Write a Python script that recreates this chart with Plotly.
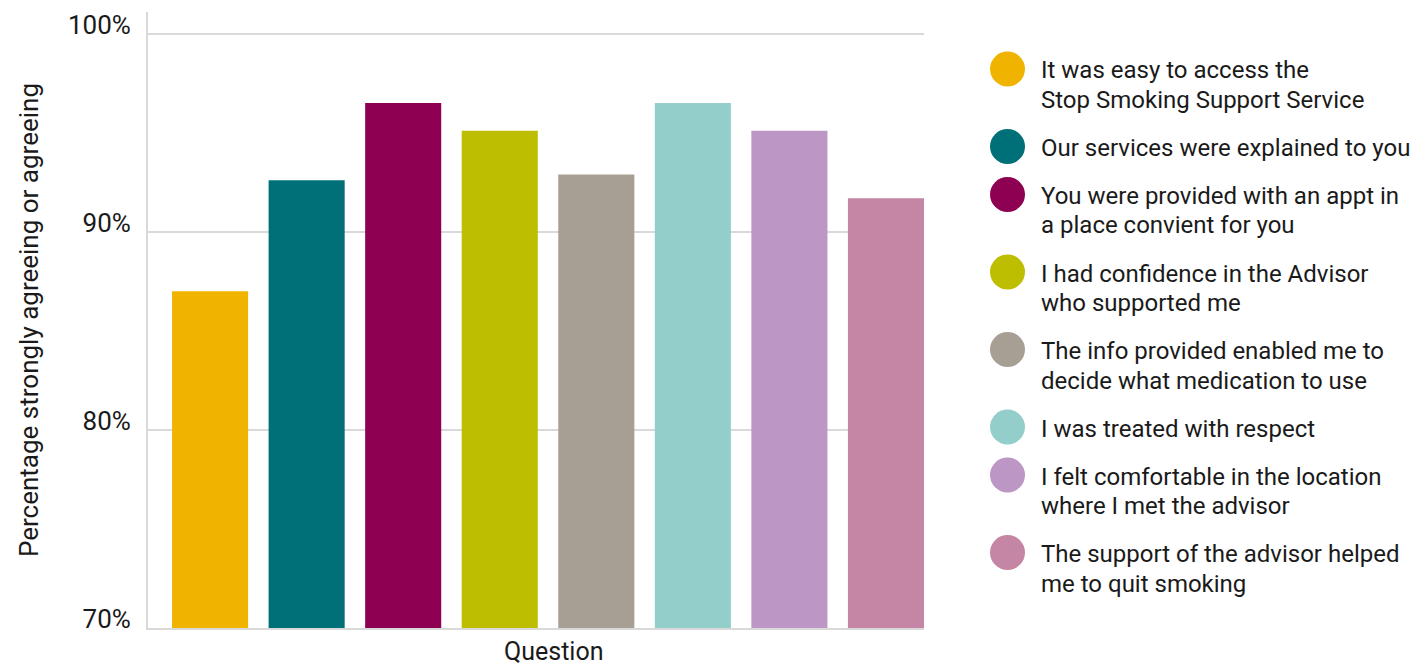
import plotly.graph_objects as go

questions = [
    "It was easy to access the<br>Stop Smoking Support Service",
    "Our services were explained to you",
    "You were provided with an appt in<br>a place convient for you",
    "I had confidence in the Advisor<br>who supported me",
    "The info provided enabled me to<br>decide what medication to use",
    "I was treated with respect",
    "I felt comfortable in the location<br>where I met the advisor",
    "The support of the advisor helped<br>me to quit smoking",
]
values = [87.0, 92.6, 96.5, 95.1, 92.9, 96.5, 95.1, 91.7]
colors = ["#F0B400", "#007078", "#8E0052", "#BDBE00", "#A89F94", "#93CECB", "#BC96C4", "#C585A5"]
y_ticks = [70, 80, 90, 100]
y_tick_text = ["70%", "80%", "90%", "100%"]

FONT = "Roboto"
TXT = "#1a1a1a"
W, H = 1421, 668
L, R, T, B = 148, 924, 12, 628  # plot area in pixels

def px_x(p):
    return (p - L) / (R - L)

def px_y(p):
    return (B - p) / (B - T)

fig = go.Figure()
fig.add_trace(go.Bar(
    x=list(range(len(values))),
    y=values,
    marker=dict(color=colors, line=dict(width=0)),
    width=0.788,
    showlegend=False,
    hoverinfo="y",
))

shapes = []
annotations = []
# custom legend
cy = 69
for q, c in zip(questions, colors):
    lines = q.split("<br>")
    shapes.append(dict(type="circle", xref="paper", yref="paper",
                       x0=px_x(990), x1=px_x(1025),
                       y0=px_y(cy + 17.5), y1=px_y(cy - 17.5),
                       fillcolor=c, line=dict(width=0)))
    for k, ln in enumerate(lines):
        annotations.append(dict(xref="paper", yref="paper", x=px_x(1039),
                                y=px_y(cy + 1.5 + 29.5 * k),
                                xanchor="left", yanchor="middle", align="left",
                                text=ln, showarrow=False,
                                font=dict(family=FONT, size=24, color=TXT)))
    cy += 48 + 29.5 * (len(lines) - 1)

annotations.append(dict(xref="paper", yref="paper", x=px_x(553), y=px_y(652),
                        xanchor="center", yanchor="middle", text="Question",
                        showarrow=False, font=dict(family=FONT, size=25, color=TXT)))

fig.update_layout(
    width=W, height=H,
    margin=dict(l=L, r=W - R, t=T, b=H - B, pad=0, autoexpand=False),
    paper_bgcolor="white", plot_bgcolor="white",
    font=dict(family=FONT, color=TXT),
    shapes=shapes, annotations=annotations,
    xaxis=dict(range=[-0.643, 7.394], showticklabels=False, showgrid=False,
               zeroline=False, showline=True, linecolor="#d9d9d9", linewidth=2,
               automargin=False, fixedrange=True),
    yaxis=dict(range=[70, 101.1], tickvals=y_ticks, ticktext=y_tick_text,
               showgrid=True, gridcolor="#d9d9d9", gridwidth=2,
               zeroline=False, showline=True, linecolor="#d9d9d9", linewidth=2,
               ticks="", ticklabelstandoff=10, ticklabelshift=-9,
               tickfont=dict(family=FONT, size=26, color=TXT),
               title=dict(text="Percentage strongly agreeing or agreeing",
                          font=dict(family=FONT, size=26, color=TXT),
                          standoff=22),
               automargin=False, fixedrange=True),
)

fig.write_html("out.html")
